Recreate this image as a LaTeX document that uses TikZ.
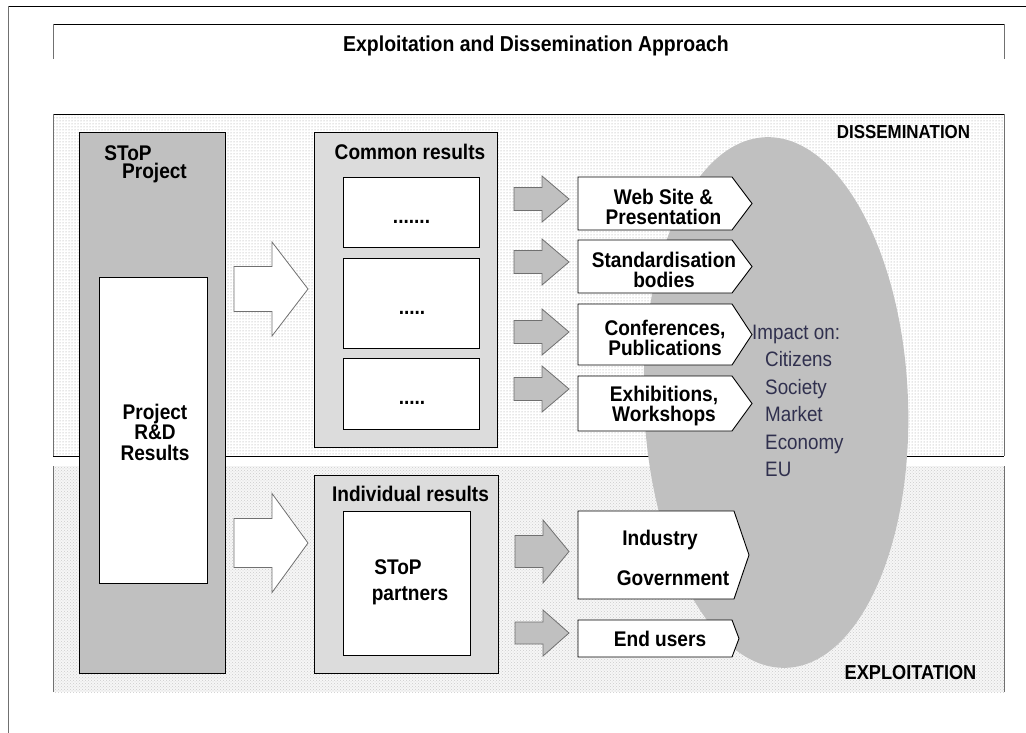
\documentclass[tikz,border=0pt]{standalone}
\usepackage{fontspec}
\setmainfont{Liberation Sans}[FakeStretch=0.9]
\usetikzlibrary{patterns}
\definecolor{boxgray}{HTML}{C0C0C0}
\definecolor{lightbox}{HTML}{DCDCDC}
\definecolor{impactcol}{HTML}{30304E}
\definecolor{edgegray}{HTML}{707070}
\newcommand\blockarrow[7]{%
  \draw[#1] (#2,#5-#6) -- (#3,#5-#6) -- (#3,#5-#7) -- (#4,#5) -- (#3,#5+#7) -- (#3,#5+#6) -- (#2,#5+#6) -- cycle;}
\newcommand\pentbox[5]{%
  \draw[pentstyle] (#1,#4) -- (#2,#4) -- (#3,{(#4+#5)/2}) -- (#2,#5) -- (#1,#5) -- cycle;}
\tikzset{
  btxt/.style={font=\bfseries\fontsize{21.2}{20.5}\selectfont, align=center, inner sep=0pt},
  ititle/.style={font=\bfseries\fontsize{21.6}{22}\selectfont, inner sep=0pt},
  imptxt/.style={font=\fontsize{20.9}{22}\selectfont, text=impactcol, inner sep=0pt, anchor=base west},
  pentstyle/.style={fill=white, draw=black, line width=0.9pt, line join=miter},
  grayarrow/.style={fill=boxgray, draw=edgegray, line width=0.8pt},
  hollowarrow/.style={fill=white, draw=edgegray, line width=0.8pt},
  bigbox/.style={draw=black, line width=0.9pt, inner sep=0pt, anchor=north west},
}
\begin{document}
\begin{tikzpicture}[x=1pt,y=-1pt]
\useasboundingbox (0,0) rectangle (1026,733);
\fill[white] (0,0) rectangle (1026,733);
% outer frame
\draw[black, line width=0.9pt] (8,6) -- (1026,6);
\draw[edgegray, line width=0.9pt] (8,6) -- (8,733);
% title frame
\draw[black, line width=0.9pt] (53,24) -- (1004,24);
\draw[edgegray, line width=0.9pt] (53,24) -- (53,59);
\draw[edgegray, line width=0.9pt] (1004,24) -- (1004,59);
\node[ititle] (title) at (536,46) {Exploitation and Dissemination Approach};
% regions
\fill[white] (53,114) rectangle (1004,456);
\fill[pattern=dots, pattern color=black!40] (53,114) rectangle (1004,456);
\fill[gray!7] (53,466) rectangle (1004,692);
\fill[pattern=crosshatch dots, pattern color=gray!40] (53,466) rectangle (1004,692);
\draw[black, line width=0.9pt] (53,114) -- (1004,114);
\draw[black, line width=0.9pt] (53,456) -- (1004,456);
\draw[edgegray, line width=0.9pt] (53,114) -- (53,456);
\draw[edgegray, line width=0.9pt] (1004,114) -- (1004,456);
\draw[edgegray, line width=0.9pt] (53,466) -- (53,692);
\draw[edgegray, line width=0.9pt] (1004,466) -- (1004,692);
% ellipse
\fill[boxgray, rotate around={2.3:(776,402.5)}] (776,402.5) ellipse [x radius=132, y radius=265.5];
\node[font=\bfseries\fontsize{18.8}{19}\selectfont, inner sep=0pt] (dissem) at (903.5,132) {DISSEMINATION};
\node[font=\bfseries\fontsize{20.2}{21}\selectfont, inner sep=0pt] (exploit) at (910.5,673) {EXPLOITATION};
% SToP project
\node[bigbox, fill=boxgray, minimum width=146, minimum height=541] (stop) at (79,132) {};
\node[bigbox, fill=white, minimum width=108, minimum height=306] (rd) at (99,277) {};
\node[btxt] (stoplbl) at (128,153) {SToP};
\node[btxt] (projlbl) at (154.5,173) {Project};
\node[btxt] (rdlbl) at (155,432) {Project\\R\&D\\Results};
% common results
\node[bigbox, fill=lightbox, minimum width=183, minimum height=315] (common) at (314,132) {};
\node[btxt] (commonlbl) at (410,152) {Common results};
\node[bigbox, fill=white, minimum width=136, minimum height=70] (c1) at (343,177) {};
\node[bigbox, fill=white, minimum width=136, minimum height=90] (c2) at (343,258) {};
\node[bigbox, fill=white, minimum width=136, minimum height=71] (c3) at (343,358) {};
\node[btxt, anchor=base] (c1dots) at (411.5,223) {.......};
\node[btxt, anchor=base] (c2dots) at (412,314) {.....};
\node[btxt, anchor=base] (c3dots) at (412,404) {.....};
% individual results
\node[bigbox, fill=lightbox, minimum width=184, minimum height=198] (indiv) at (314,475) {};
\node[btxt] (indivlbl) at (410.5,494) {Individual results};
\node[bigbox, fill=white, minimum width=127, minimum height=144] (partners) at (343,511) {};
\node[btxt] (stop2) at (398,567) {SToP};
\node[btxt] (partlbl) at (410,596) {partners};
% hollow arrows
\blockarrow{hollowarrow}{234}{272}{308}{289}{22.5}{47}
\blockarrow{hollowarrow}{234}{272}{308}{543}{24.5}{49.5}
% gray arrows
\blockarrow{grayarrow}{514}{542}{569}{199}{11.5}{23}
\blockarrow{grayarrow}{514}{542}{569}{262}{11.5}{23}
\blockarrow{grayarrow}{514}{542}{569}{332}{11.5}{23}
\blockarrow{grayarrow}{514}{542}{569}{389}{11.5}{23}
\blockarrow{grayarrow}{515}{543}{569}{551.5}{16}{31.5}
\blockarrow{grayarrow}{515}{543}{569}{633}{11}{23}
% pentagon boxes
\pentbox{578}{732}{752}{177}{230}
\pentbox{578}{732}{752}{240}{293}
\pentbox{578}{732}{752}{304}{365}
\pentbox{578}{732}{752}{376}{431}
\pentbox{578}{734}{749}{511}{599}
\pentbox{578}{732}{739}{620}{657}
\node[btxt] (web) at (663.5,207) {Web Site \&\\Presentation};
\node[btxt] (std) at (664,270) {Standardisation\\bodies};
\node[btxt] (conf) at (665,338) {Conferences,\\Publications};
\node[btxt] (exh) at (664,406) {Exhibitions,\\Workshops};
\node[btxt] (ind) at (660,540) {Industry};
\node[btxt] (gov) at (673,578) {Government};
\node[btxt] (end) at (660,639) {End users};
% impact text
\node[imptxt] (imp0) at (752,339) {Impact on:};
\node[imptxt] (imp1) at (765,366.5) {Citizens};
\node[imptxt] (imp2) at (765,394) {Society};
\node[imptxt] (imp3) at (765,421.5) {Market};
\node[imptxt] (imp4) at (765,449) {Economy};
\node[imptxt] (imp5) at (765,476.5) {EU};
\end{tikzpicture}
\end{document}
